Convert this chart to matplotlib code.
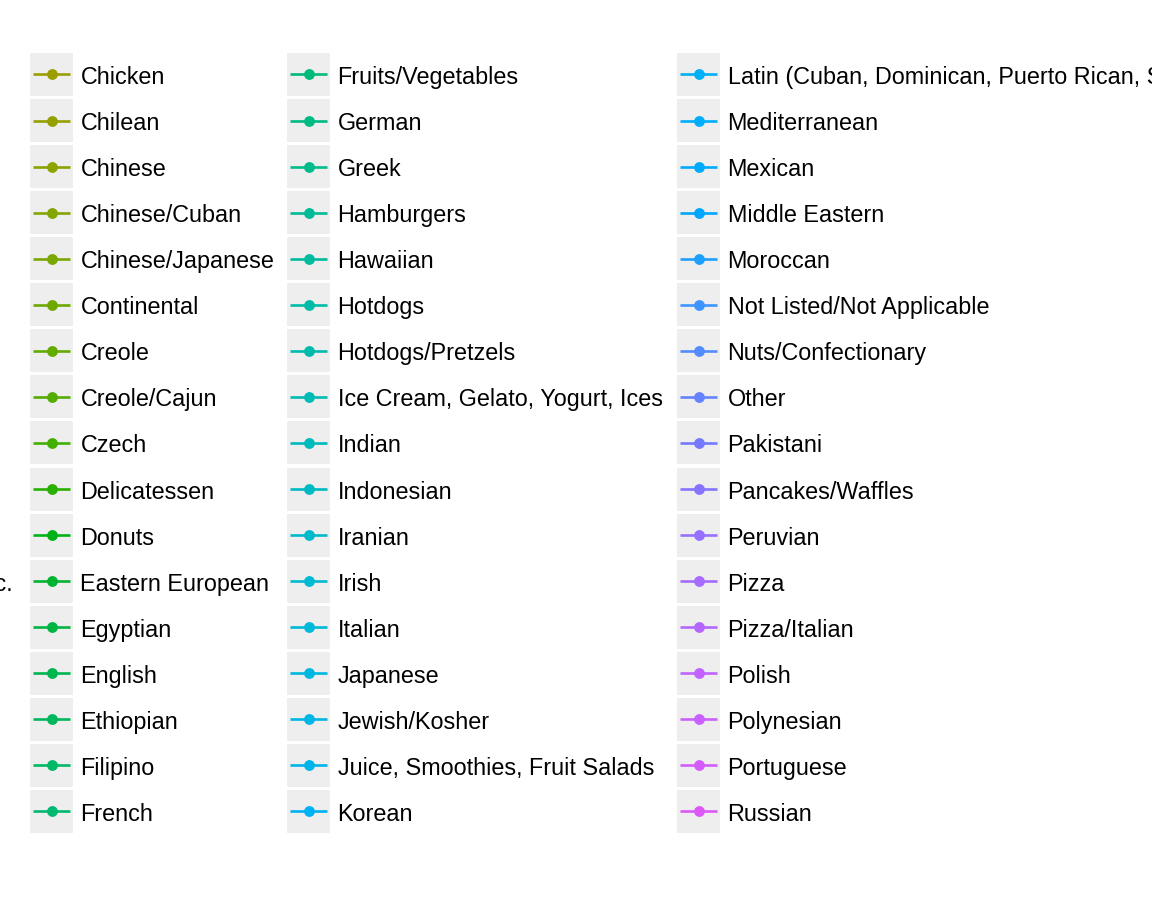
import colorsys
import numpy as np
import matplotlib
matplotlib.use("Agg")
import matplotlib.pyplot as plt

# Legend levels (ggplot hue palette, 85 levels in total)
n_levels = 85
hidden_label = "Bottled beverages, including water, sodas, juices, etc."
hidden_index = 11

col1 = ["Chicken", "Chilean", "Chinese", "Chinese/Cuban", "Chinese/Japanese",
        "Continental", "Creole", "Creole/Cajun", "Czech", "Delicatessen",
        "Donuts", "Eastern European", "Egyptian", "English", "Ethiopian",
        "Filipino", "French"]
col2 = ["Fruits/Vegetables", "German", "Greek", "Hamburgers", "Hawaiian",
        "Hotdogs", "Hotdogs/Pretzels", "Ice Cream, Gelato, Yogurt, Ices",
        "Indian", "Indonesian", "Iranian", "Irish", "Italian", "Japanese",
        "Jewish/Kosher", "Juice, Smoothies, Fruit Salads", "Korean"]
col3 = ["Latin (Cuban, Dominican, Puerto Rican, South & Central American)",
        "Mediterranean", "Mexican", "Middle Eastern", "Moroccan",
        "Not Listed/Not Applicable", "Nuts/Confectionary", "Other",
        "Pakistani", "Pancakes/Waffles", "Peruvian", "Pizza", "Pizza/Italian",
        "Polish", "Polynesian", "Portuguese", "Russian"]
first_level = 17  # index of "Chicken" among all levels


def hcl(h, c=100.0, l=65.0):
    # polar Luv -> sRGB, same as R's hcl()
    wx, wy, wz = 95.047, 100.0, 108.883
    hr = np.deg2rad(h)
    U, V = c * np.cos(hr), c * np.sin(hr)
    Y = wy * ((l + 16) / 116) ** 3 if l > 7.999592 else wy * l / 903.3
    t = wx + wy + wz
    x, y = wx / t, wy / t
    un = 2 * x / (6 * y - x + 1.5)
    vn = 4.5 * y / (6 * y - x + 1.5)
    u = U / (13 * l) + un
    v = V / (13 * l) + vn
    X = 9.0 * Y * u / (4 * v)
    Z = -X / 3 - 5 * Y + 3 * Y / v

    def g(a):
        return 1.055 * a ** (1 / 2.4) - 0.055 if a > 0.00304 else 12.92 * a

    r = g((3.240479 * X - 1.537150 * Y - 0.498535 * Z) / wy)
    gg = g((-0.969256 * X + 1.875992 * Y + 0.041556 * Z) / wy)
    b = g((0.055648 * X - 0.204043 * Y + 1.057311 * Z) / wy)
    r, gg, b = (min(max(k, 0), 1) for k in (r, gg, b))
    # the reference was saved through a display profile: a bit more saturated
    hh, ss, vv = colorsys.rgb_to_hsv(r, gg, b)
    return colorsys.hsv_to_rgb(hh, ss ** 0.75, vv ** 1.1)


hues = 15 + np.arange(n_levels) * 360 / n_levels
palette = [hcl(h) for h in hues]

fig = plt.figure(figsize=(11.52, 9.21), dpi=100)
ax = fig.add_axes([0, 0, 1, 1])
ax.set_xlim(0, 1152)
ax.set_ylim(921, 0)
ax.axis("off")

font = ["Liberation Sans", "DejaVu Sans"]
row0, pitch = 74.5, 46.06
key_w, key_h = 43, 43
col_x = [30, 287, 677]

for ci, (labels, kx) in enumerate(zip([col1, col2, col3], col_x)):
    for ri, lab in enumerate(labels):
        yc = row0 + ri * pitch
        ax.add_patch(plt.Rectangle((kx, yc - key_h / 2), key_w, key_h,
                                   facecolor="#EEEEEE", edgecolor="none"))
        col = palette[first_level + ci * 17 + ri]
        ax.plot([kx + 3, kx + 40], [yc, yc], color=col, lw=1.9,
                solid_capstyle="butt")
        ax.plot(kx + key_w / 2, yc, "o", color=col, ms=7.8, mec="none")
        ax.text(kx + key_w + 7.5, yc + 9.5, lab, fontsize=16.85, family=font,
                va="baseline", ha="left", color="black")

# tail of a label from the column to the left (mostly off the figure)
ax.text(13, row0 + hidden_index * pitch + 9.5, hidden_label, fontsize=16.85,
        family=font, va="baseline", ha="right", color="black")

fig.savefig("out.png", dpi=100)
